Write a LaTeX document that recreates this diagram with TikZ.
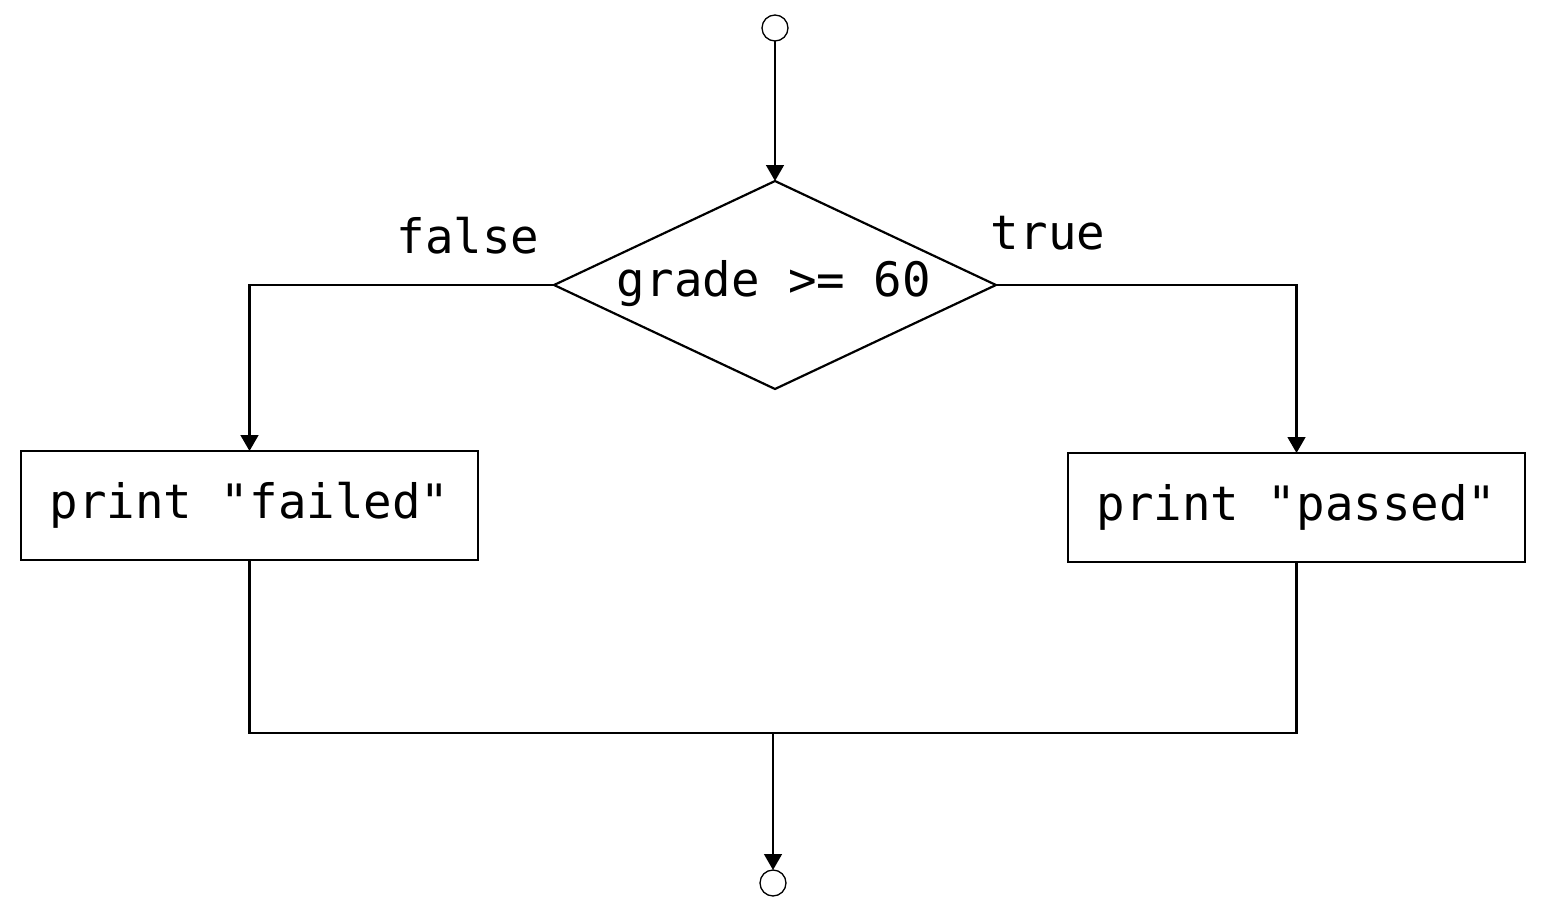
\documentclass[tikz,border=0pt]{standalone}
\usepackage{fontspec}
\setmonofont{DejaVu Sans Mono}
\usetikzlibrary{shapes.geometric,arrows.meta}
\begin{document}
\begin{tikzpicture}[x=0.02cm,y=-0.02cm,
  every node/.style={font=\ttfamily\fontsize{27pt}{32pt}\selectfont},
  line/.style={line width=1.25pt},
  arrow/.style={line, -{Triangle[width=10pt,length=9pt]}},
  endpoint/.style={circle, draw, line width=0.75pt, minimum size=0.52cm, inner sep=0pt, outer sep=0pt},
  decision/.style={diamond, draw, line width=1.25pt, inner sep=0pt, outer sep=0pt, minimum width=8.84cm, minimum height=4.16cm},
  action/.style={rectangle, draw, line width=1.25pt, inner sep=0pt, outer sep=0pt, minimum width=9.14cm, minimum height=2.18cm},
  label/.style={inner sep=0pt}]
\useasboundingbox (0,0) rectangle (1550,906);
\node[endpoint] (start) at (775,28) {};
\node[decision] (d) at (775,285) {};
\node at (774,284) {grade >= 60};
\node[action] (fail) at (249.5,505.5) {print "failed"};
\node[action] (pass) at (1296.5,507.5) {print "passed"};
\node[label] (lf) at (468,236) {false};
\node[label] (lt) at (1048,233) {true};
\node[endpoint] (stop) at (773,883) {};
\coordinate (m) at (773,733);
\draw[arrow] (start.south) -- (d.north);
\draw[arrow] (d.west) -| (fail.north);
\draw[arrow] (d.east) -| (pass.north);
\draw[line] (fail.south) |- (m) -| (pass.south);
\draw[arrow] (m) -- (stop.north);
\end{tikzpicture}
\end{document}
